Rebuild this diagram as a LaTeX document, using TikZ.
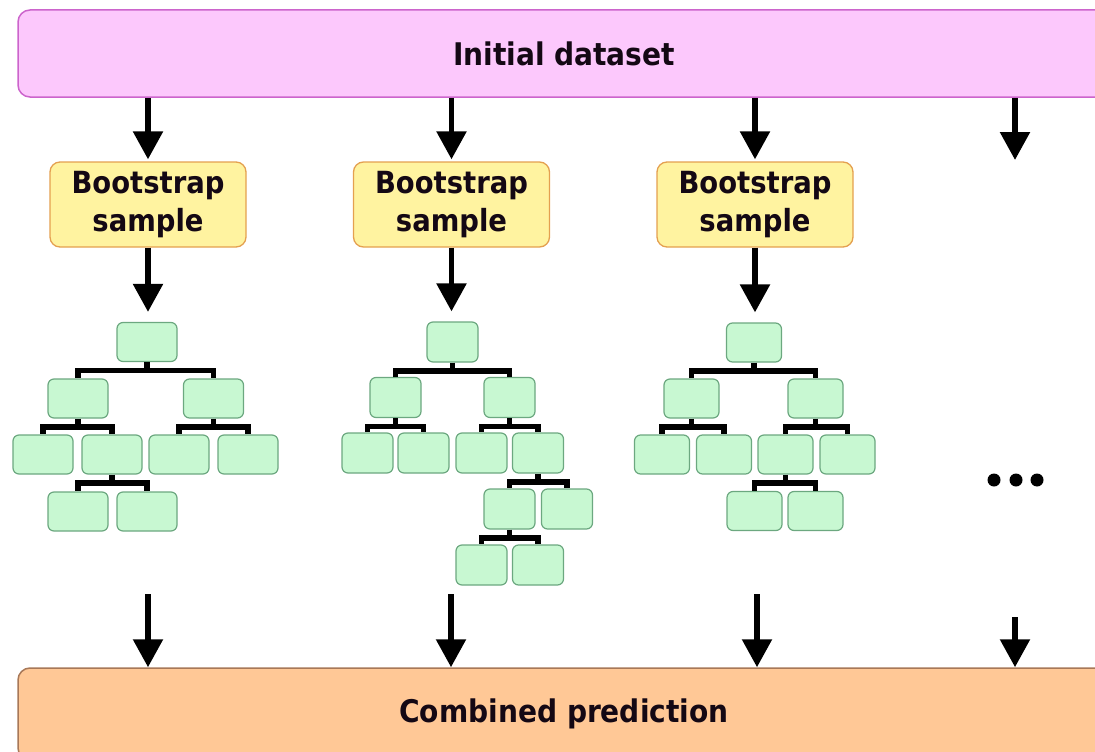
\documentclass[tikz,border=0pt]{standalone}
\usepackage{fontspec}
\setmainfont{DejaVu Sans Condensed}
\usetikzlibrary{arrows.meta}

\definecolor{dataFill}{RGB}{252,200,252}
\definecolor{dataLine}{RGB}{204,100,204}
\definecolor{bootFill}{RGB}{255,243,160}
\definecolor{bootLine}{RGB}{228,160,80}
\definecolor{leafFill}{RGB}{200,248,210}
\definecolor{leafLine}{RGB}{108,168,128}
\definecolor{combFill}{RGB}{255,200,150}
\definecolor{combLine}{RGB}{168,120,88}
\definecolor{ink}{RGB}{20,8,20}

\tikzset{
  bar/.style={rounded corners=12pt, line width=1.5pt, inner sep=0pt,
    minimum width=1092pt, text=ink, font=\bfseries\fontsize{31.2}{36}\selectfont},
  bootbox/.style={draw=bootLine, fill=bootFill, rounded corners=10pt,
    line width=1.3pt, minimum width=196pt, minimum height=85pt, inner sep=0pt,
    align=center, text=ink, font=\bfseries\fontsize{30.5}{38}\selectfont},
  leaf/.style={draw=leafLine, fill=leafFill, rounded corners=6pt,
    line width=1.2pt, minimum height=39pt, inner sep=0pt},
  flow/.style={line width=5.5pt, -{Triangle[width=29pt,length=28pt]}},
  link/.style={line width=5.5pt, line join=miter},
  fork/.style={to path={(\tikztostart.south) -- ++(0,8.5) -| (\tikztotarget.north)}},
  dot/.style={circle, fill=black, minimum size=13pt, inner sep=0pt}
}

\begin{document}
\begin{tikzpicture}[x=1pt, y=-1pt]
\useasboundingbox (0,0) rectangle (1095,752);
\begin{scope}
\clip (0,0) rectangle (1095,752);

% top and bottom bars
\node[bar, draw=dataLine, fill=dataFill, minimum height=87pt] (data) at (564,53.5) {Initial dataset};
\node[bar, draw=combLine, fill=combFill, minimum height=92pt] (comb) at (564,714) {Combined prediction};

% bootstrap samples
\node[bootbox] (s1) at (148,204.5) {Bootstrap\\sample};
\node[bootbox] (s2) at (451.5,204.5) {Bootstrap\\sample};
\node[bootbox] (s3) at (755,204.5) {Bootstrap\\sample};

% tree 1
\begin{scope}[every node/.append style={leaf, minimum width=60pt}]
\node (t1r)   at (147,342) {};
\node (t1a)   at (78,398.5) {};
\node (t1b)   at (213.5,398.5) {};
\node (t1aa)  at (43,454.5) {};
\node (t1ab)  at (112,454.5) {};
\node (t1ba)  at (179,454.5) {};
\node (t1bb)  at (248,454.5) {};
\node (t1aba) at (78,511.5) {};
\node (t1abb) at (147,511.5) {};
\end{scope}
\draw[link] (t1r) to[fork] (t1a) (t1r) to[fork] (t1b)
            (t1a) to[fork] (t1aa) (t1a) to[fork] (t1ab)
            (t1b) to[fork] (t1ba) (t1b) to[fork] (t1bb)
            (t1ab) to[fork] (t1aba) (t1ab) to[fork] (t1abb);

% tree 2
\begin{scope}[every node/.append style={leaf, minimum width=51pt, minimum height=40pt}]
\node (t2r)    at (452.5,342) {};
\node (t2a)    at (395.5,397.5) {};
\node (t2b)    at (509.5,397.5) {};
\node (t2aa)   at (367.5,453) {};
\node (t2ab)   at (423.5,453) {};
\node (t2ba)   at (481.5,453) {};
\node (t2bb)   at (538,453) {};
\node (t2bba)  at (509.5,509) {};
\node (t2bbb)  at (567,509) {};
\node (t2bbaa) at (481.5,565) {};
\node (t2bbab) at (538,565) {};
\end{scope}
\draw[link] (t2r) to[fork] (t2a) (t2r) to[fork] (t2b)
            (t2a) to[fork] (t2aa) (t2a) to[fork] (t2ab)
            (t2b) to[fork] (t2ba) (t2b) to[fork] (t2bb)
            (t2bb) to[fork] (t2bba) (t2bb) to[fork] (t2bbb)
            (t2bba) to[fork] (t2bbaa) (t2bba) to[fork] (t2bbab);

% tree 3
\begin{scope}[every node/.append style={leaf, minimum width=55pt}]
\node (t3r)   at (754,342.5) {};
\node (t3a)   at (691.5,398.5) {};
\node (t3b)   at (815.5,398.5) {};
\node (t3aa)  at (662,454.5) {};
\node (t3ab)  at (724,454.5) {};
\node (t3ba)  at (785.5,454.5) {};
\node (t3bb)  at (847.5,454.5) {};
\node (t3baa) at (754.5,511) {};
\node (t3bab) at (815.5,511) {};
\end{scope}
\draw[link] (t3r) to[fork] (t3a) (t3r) to[fork] (t3b)
            (t3a) to[fork] (t3aa) (t3a) to[fork] (t3ab)
            (t3b) to[fork] (t3ba) (t3b) to[fork] (t3bb)
            (t3ba) to[fork] (t3baa) (t3ba) to[fork] (t3bab);

% further trees, elided
\node[dot] (d1) at (994,480) {};
\node[dot] (d2) at (1016,480) {};
\node[dot] (d3) at (1037,480) {};

% arrows from the dataset
\draw[flow, shorten >=2pt] (data.south -| s1) -- (s1.north);
\draw[flow, shorten >=2pt] (data.south -| s2) -- (s2.north);
\draw[flow, shorten >=2pt] (data.south -| s3) -- (s3.north);
\coordinate (top4) at (1015,160);
\draw[flow] (data.south -| top4) -- (top4);

% arrows from samples to trees
\draw[flow, shorten >=10pt] (s1.south) -- (s1.south |- t1r.north);
\draw[flow, shorten >=10pt] (s2.south) -- (s2.south |- t2r.north);
\draw[flow, shorten >=10pt] (s3.south) -- (s3.south |- t3r.north);

% arrows into the combined prediction
\coordinate (b1) at (148,594);
\coordinate (b2) at (451,594);
\coordinate (b3) at (757,594);
\coordinate (b4) at (1015,617);
\draw[flow] (b1) -- (b1 |- comb.north);
\draw[flow] (b2) -- (b2 |- comb.north);
\draw[flow] (b3) -- (b3 |- comb.north);
\draw[flow] (b4) -- (b4 |- comb.north);
\end{scope}
\end{tikzpicture}
\end{document}
